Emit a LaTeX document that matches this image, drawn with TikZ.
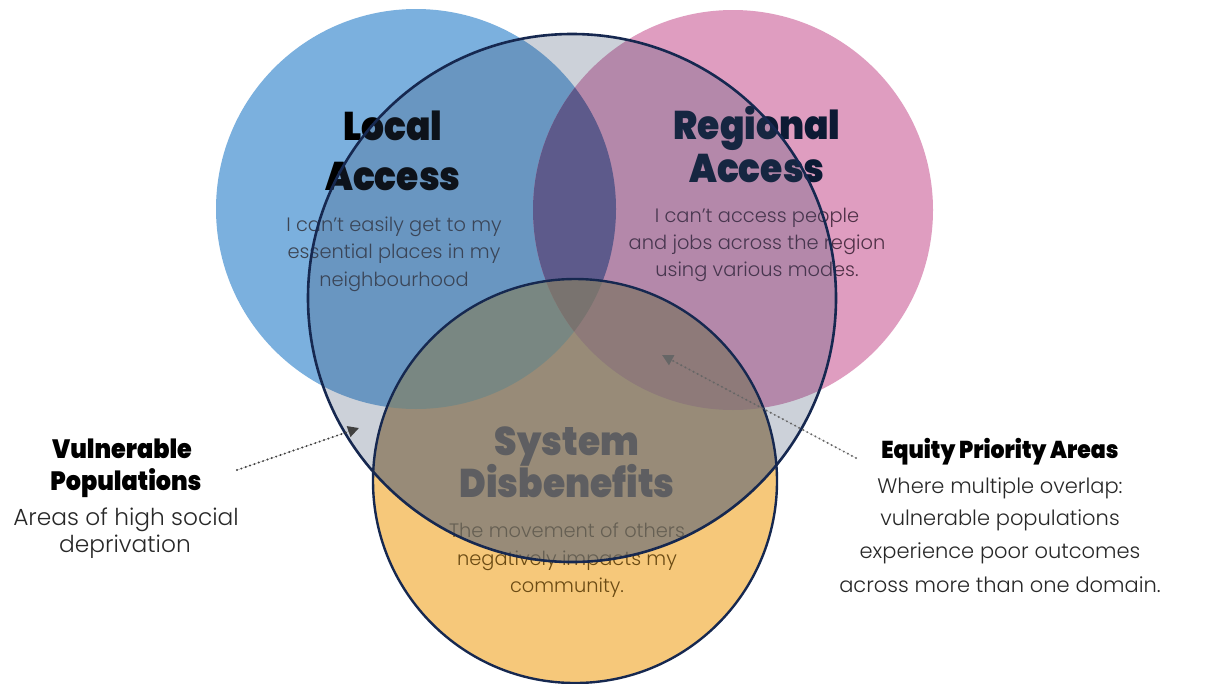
\documentclass[tikz,border=0pt]{standalone}
\usepackage{fontspec}
\usetikzlibrary{arrows.meta}
\IfFontExistsTF{Poppins Black}{\newfontfamily\heavyf{Poppins Black}[FakeStretch=0.9]}{\newfontfamily\heavyf{Lato}[FakeBold=1.5]}
\IfFontExistsTF{Poppins Light}{\newfontfamily\lightf{Poppins Light}}{\newfontfamily\lightf{Lato}}
\definecolor{cBlue}{RGB}{123,176,222}
\definecolor{cPink}{RGB}{223,157,192}
\definecolor{cLens}{RGB}{106,96,151}
\definecolor{cYel}{RGB}{246,200,122}
\definecolor{cYB}{RGB}{162,188,150}
\definecolor{cYP}{RGB}{218,152,127}
\definecolor{cYBP}{RGB}{162,132,99}
\definecolor{cOv}{RGB}{55,75,107}
\definecolor{cOvTwo}{RGB}{110,114,122}
\definecolor{cNavy}{RGB}{22,40,80}
\definecolor{tLocal}{RGB}{60,68,82}
\definecolor{tRegT}{RGB}{12,26,52}
\definecolor{tReg}{RGB}{78,48,70}
\definecolor{tSysT}{RGB}{86,74,60}
\definecolor{tSys}{RGB}{107,75,20}
\definecolor{tSide}{RGB}{40,40,40}
\def\CB{(416,209) circle[radius=200]}
\def\CP{(733,210) circle[radius=200]}
\def\CY{(575,481) circle[radius=202]}
\def\CG{(572,298) circle[radius=264]}
\tikzset{
  ttl/.style={anchor=base, inner sep=0pt, font=\heavyf\fontsize{40}{42}\selectfont},
  systtl/.style={anchor=base, inner sep=0pt, font=\heavyf\fontsize{40}{42}\selectfont, text=tSysT},
  dsc/.style={anchor=base, inner sep=0pt, font=\lightf\fontsize{19.4}{23}\selectfont},
  sidettl/.style={anchor=base, inner sep=0pt, font=\heavyf\fontsize{26.5}{28}\selectfont, text=black},
  sidedsc/.style={anchor=base, inner sep=0pt, font=\lightf\fontsize{23.3}{26}\selectfont, text=tSide},
  eqttl/.style={sidettl, font=\heavyf\fontsize{24.4}{26}\selectfont},
  eqdsc/.style={sidedsc, font=\lightf\fontsize{21}{25}\selectfont},
  dotarrow/.style={line width=2.2pt, line cap=round, dash pattern=on 0pt off 4.6pt,
    -{Triangle[length=11pt,width=11pt]}},
  ring/.style={draw=cNavy, line width=2.6pt}
}
\begin{document}
\begin{tikzpicture}[x=1pt,y=-1pt]
\useasboundingbox (0,0) rectangle (1214,683);
\fill[white] (0,0) rectangle (1214,683);
% base circles
\fill[cBlue] \CB;
\fill[cPink] \CP;
\begin{scope}\clip \CB; \fill[cLens] \CP; \end{scope}
\fill[cYel] \CY;
\begin{scope}\clip \CY; \fill[cYB] \CB; \end{scope}
\begin{scope}\clip \CY; \fill[cYP] \CP; \end{scope}
\begin{scope}\clip \CY; \clip \CB; \fill[cYBP] \CP; \end{scope}
% circle texts
\node[ttl, text=black] (la1) at (393,140) {Local};
\node[ttl, text=black] (la2) at (393,190) {Access};
\node[dsc, text=tLocal] (ld1) at (394,231) {I can’t easily get to my};
\node[dsc, text=tLocal] (ld2) at (394,258) {essential places in my};
\node[dsc, text=tLocal] (ld3) at (394,286) {neighbourhood};
\node[ttl, text=tRegT] (ra1) at (757,139) {Regional};
\node[ttl, text=tRegT] (ra2) at (757,182) {Access};
\node[dsc, text=tReg] (rd1) at (757,222) {I can’t access people};
\node[dsc, text=tReg] (rd2) at (757,249) {and jobs across the region};
\node[dsc, text=tReg] (rd3) at (757,276) {using various modes.};
\node[systtl] (sd1) at (567,455) {System};
\node[systtl] (sd2) at (567,497) {Disbenefits};
\node[dsc, text=tSys] (sx1) at (567,537) {The movement of others};
\node[dsc, text=tSys] (sx2) at (567,565) {negatively impacts my};
\node[dsc, text=tSys] (sx3) at (567,592) {community.};
% translucent large circle
\fill[cOv, fill opacity=0.25] \CG;
\begin{scope}\clip \CG; \fill[cOvTwo, fill opacity=0.52] \CY; \end{scope}
\draw[ring, line width=2.4pt] \CY;
\draw[ring] \CG;
% side labels
\node[sidettl] (vp1) at (122,458) {Vulnerable};
\node[sidettl] (vp2) at (126,490) {Populations};
\node[sidedsc] (vd1) at (126,525) {Areas of high social};
\node[sidedsc] (vd2) at (125,552) {deprivation};
\node[eqttl] (ep1) at (1000,458) {Equity Priority Areas};
\node[eqdsc] (ed1) at (1000,493) {Where multiple overlap:};
\node[eqdsc] (ed2) at (1000,525) {vulnerable populations};
\node[eqdsc] (ed3) at (1000,558) {experience poor outcomes};
\node[eqdsc] (ed4) at (1000,592) {across more than one domain.};
% arrows
\coordinate (vpStart) at (237,470);
\coordinate (vpTip) at (359,428);
\coordinate (epStart) at (856,458);
\coordinate (epTip) at (662,355);
\draw[dotarrow, draw=black!75, fill=black] (vpStart) -- (vpTip);
\draw[dotarrow, draw=black!60, fill=black!60] (epStart) -- (epTip);
\end{tikzpicture}
\end{document}
